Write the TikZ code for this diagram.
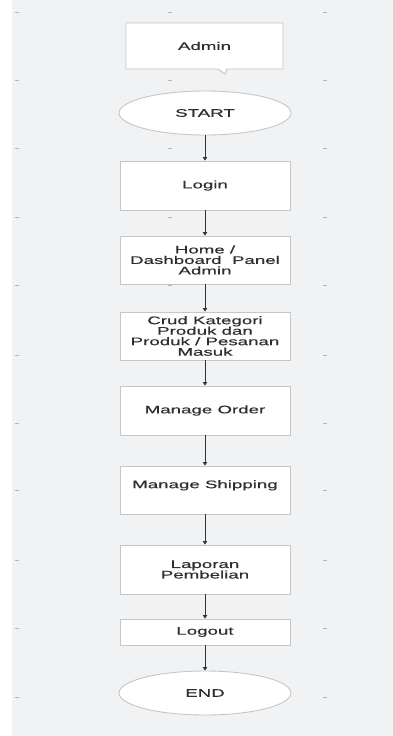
\documentclass[tikz,border=0pt]{standalone}
\usepackage{fontspec}
\setmainfont[FakeStretch=1.7,FakeBold=0.4]{Liberation Sans}
\usetikzlibrary{arrows.meta,shapes.geometric}
\definecolor{bg}{HTML}{F1F2F4}
\definecolor{bd}{HTML}{C6C6C6}
\definecolor{tx}{HTML}{2E2E2E}
\definecolor{ln}{HTML}{333333}
\definecolor{mk}{HTML}{B5B5B5}
\begin{document}
\begin{tikzpicture}[x=1pt,y=-1pt,
  txt/.style={text=tx,font=\fontsize{11}{10.5}\selectfont,align=center,inner sep=0pt},
  box/.style={txt,draw=bd,line width=0.9pt,fill=white,minimum width=170pt},
  term/.style={txt,ellipse,draw=bd,line width=0.9pt,fill=white,minimum width=172pt,minimum height=44pt},
  flow/.style={draw=ln,line width=0.8pt,-{Triangle[width=4.5pt,length=3.5pt]}},
  gridmark/.style={draw=mk,line width=0.6pt}]
\useasboundingbox (0,0) rectangle (393,736);
\fill[white] (0,0) rectangle (393,736);
\fill[bg] (12,0) rectangle (393,736);
% grid marks
\foreach \yy in {12,80,148,217,285,355,423,490,560,628,697}{
  \draw[gridmark] (15,\yy) -- (19,\yy);
  \draw[gridmark] (168,\yy) -- (172,\yy);
  \draw[gridmark] (323,\yy) -- (327,\yy);
}
% Admin callout
\draw[draw=bd,line width=0.9pt,fill=white] (126,23) -- (283,23) -- (283,69) -- (227,69) -- (225,74) -- (218,69) -- (126,69) -- cycle;
\node[txt] (admin) at (204.5,46) {Admin};
% flow
\node[term] (start) at (205,113) {START};
\node[box,minimum height=49pt] (login) at (205,185.5) {Login};
\node[box,minimum height=48pt] (home) at (205,260) {Home /\\Dashboard\ \ Panel\\Admin};
\node[box,minimum height=48pt] (crud) at (205,336) {Crud Kategori\\Produk dan\\Produk / Pesanan\\Masuk};
\node[box,minimum height=49pt] (order) at (205,410.5) {Manage Order};
\node[box,minimum height=48pt] (ship) at (205,490) {Manage Shipping\\[-2pt]\strut};
\node[box,minimum height=49pt] (lap) at (205,569.5) {Laporan\\Pembelian};
\node[box,minimum height=26pt] (logout) at (205,632) {Logout};
\node[term] (end) at (205,693) {END};
\draw[flow] (start) -- (login);
\draw[flow] (login) -- (home);
\draw[flow] (home) -- (crud);
\draw[flow] (crud) -- (order);
\draw[flow] (order) -- (ship);
\draw[flow] (ship) -- (lap);
\draw[flow] (lap) -- (logout);
\draw[flow] (logout) -- (end);
\end{tikzpicture}
\end{document}
